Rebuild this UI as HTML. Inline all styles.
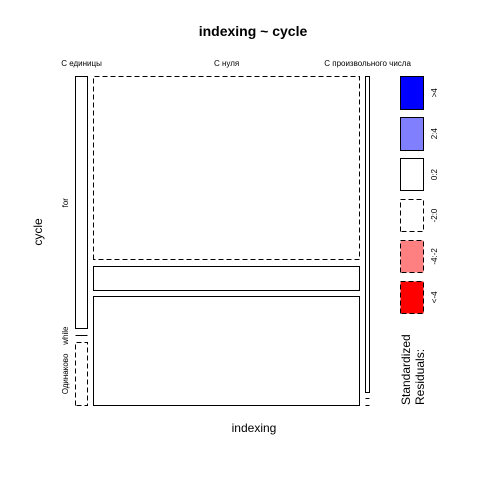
<!DOCTYPE html>
<html lang="ru">
<head>
<meta charset="utf-8">
<title>indexing ~ cycle</title>
<style>
html,body{margin:0;padding:0;background:#fff}
svg{display:block;font-family:"Liberation Sans","DejaVu Sans",sans-serif}
</style>
</head>
<body>
<svg id="chart" xmlns="http://www.w3.org/2000/svg" width="480" height="480" viewBox="0 0 480 480">
  <rect x="0" y="0" width="480" height="480" fill="#fff"/>
  <text x="253" y="36" font-size="14" font-weight="bold" text-anchor="middle" fill="#000">indexing ~ cycle</text>
  <text x="254" y="432" font-size="12" text-anchor="middle" fill="#000">indexing</text>
  <text x="42" y="232" font-size="12" text-anchor="middle" transform="rotate(-90 42 232)" fill="#000">cycle</text>
  <text x="410" y="405" font-size="12" transform="rotate(-90 410 405)" fill="#000">Standardized</text>
  <text x="424" y="405" font-size="12" transform="rotate(-90 424 405)" fill="#000">Residuals:</text>
  <g id="cells"></g>
  <g id="legend"></g>
</svg>
<script>
// Data
const columnLabels = ["С единицы", "С нуля", "С произвольного числа"];
const rowLabels = ["for", "while", "Одинаково"];
const countsFor = [40, 642, 16];
const countsWhile = [0, 84, 0];
const countsSame = [10, 381, 0];
const residualsFor = [1.8, -0.6, 1.9];
const residualsWhile = [-1.8, 0.5, -0.5];
const residualsSame = [-1.6, 0.6, -1.0];
const legendLabels = [">4", "2:4", "0:2", "-2:0", "-4:-2", "<-4"];
const legendResiduals = [5, 3, 1, -1, -3, -5];

const NS = "http://www.w3.org/2000/svg";
const plotLeft = 75.5, plotRight = 369.5, plotTop = 76.5, plotBottom = 405.5;
const gapX = 6, gapY = 6.75;
const snap = v => Math.floor(v) + 0.5;

function shadeFill(r) {
  if (r >= 4) return "#0000ff";
  if (r >= 2) return "#8080ff";
  if (r <= -4) return "#ff0000";
  if (r <= -2) return "#ff8080";
  return "#ffffff";
}
function dashFor(r) { return r < 0 ? "5 3" : "none"; }

const rowCounts = [countsFor, countsWhile, countsSame];
const rowResiduals = [residualsFor, residualsWhile, residualsSame];
const colTotals = columnLabels.map((_, c) => rowCounts.reduce((s, row) => s + row[c], 0));
const grandTotal = colTotals.reduce((a, b) => a + b, 0);
const usableW = plotRight - plotLeft - gapX * (columnLabels.length - 1);
const usableH = plotBottom - plotTop - gapY * (rowLabels.length - 1);
const xScale = n => n / grandTotal * usableW;
const yScale = (n, total) => total > 0 ? n / total * usableH : 0;

const cellsG = document.getElementById("cells");
const svg = document.getElementById("chart");

let xCursor = plotLeft;
const colCenters = [];
const firstColRowCenters = [];
columnLabels.forEach((colName, c) => {
  const w = xScale(colTotals[c]);
  const x0 = snap(xCursor), x1 = snap(xCursor + w);
  colCenters.push(xCursor + w / 2);
  let yCursor = plotTop;
  rowLabels.forEach((rowName, r) => {
    const h = yScale(rowCounts[r][c], colTotals[c]);
    const y0 = snap(yCursor), y1 = snap(yCursor + h);
    if (c === 0) firstColRowCenters.push(yCursor + h / 2);
    const res = rowResiduals[r][c];
    const cell = document.createElementNS(NS, "path");
    cell.setAttribute("d", `M${x0} ${y1}L${x0} ${y0}L${x1} ${y0}L${x1} ${y1}Z`);
    cell.setAttribute("fill", shadeFill(res));
    cell.setAttribute("stroke", "#000");
    cell.setAttribute("stroke-width", "1");
    cell.setAttribute("shape-rendering", "crispEdges");
    cell.setAttribute("stroke-dasharray", dashFor(res));
    
    
    cellsG.appendChild(cell);
    yCursor += h + gapY;
  });
  const colText = document.createElementNS(NS, "text");
  colText.setAttribute("x", colCenters[c]);
  colText.setAttribute("y", 66);
  colText.setAttribute("font-size", "8");
  colText.setAttribute("text-anchor", "middle");
  colText.setAttribute("fill", "#000");
  colText.textContent = colName;
  
  
  svg.appendChild(colText);
  xCursor += w + gapX;
});

rowLabels.forEach((rowName, r) => {
  const cy = firstColRowCenters[r];
  const rowText = document.createElementNS(NS, "text");
  rowText.setAttribute("x", 68);
  rowText.setAttribute("y", cy);
  rowText.setAttribute("font-size", "8");
  rowText.setAttribute("text-anchor", "middle");
  rowText.setAttribute("transform", `rotate(-90 68 ${cy})`);
  rowText.setAttribute("fill", "#000");
  rowText.textContent = rowName;
  
  
  svg.appendChild(rowText);
});

const legendG = document.getElementById("legend");
const legendLeft = 400.5, legendRight = 423.5, legendStep = 40.9, legendHeight = 32.6;
legendLabels.forEach((label, i) => {
  const top = plotTop + i * legendStep;
  const res = legendResiduals[i];
  const yTop = snap(top), yBottom = snap(top + legendHeight);
  const swatch = document.createElementNS(NS, "path");
  swatch.setAttribute("d", `M${legendLeft} ${yBottom}L${legendLeft} ${yTop}L${legendRight} ${yTop}L${legendRight} ${yBottom}Z`);
  swatch.setAttribute("fill", shadeFill(res));
  swatch.setAttribute("stroke", "#000");
  swatch.setAttribute("stroke-width", "1");
  swatch.setAttribute("shape-rendering", "crispEdges");
  swatch.setAttribute("stroke-dasharray", dashFor(res));
  
  
  legendG.appendChild(swatch);
  const cy = top + legendHeight / 2;
  const t = document.createElementNS(NS, "text");
  t.setAttribute("x", 437);
  t.setAttribute("y", cy);
  t.setAttribute("font-size", "8");
  t.setAttribute("text-anchor", "middle");
  t.setAttribute("transform", `rotate(-90 437 ${cy})`);
  t.setAttribute("fill", "#000");
  t.textContent = label;
  
  
  legendG.appendChild(t);
});
</script>
</body>
</html>
